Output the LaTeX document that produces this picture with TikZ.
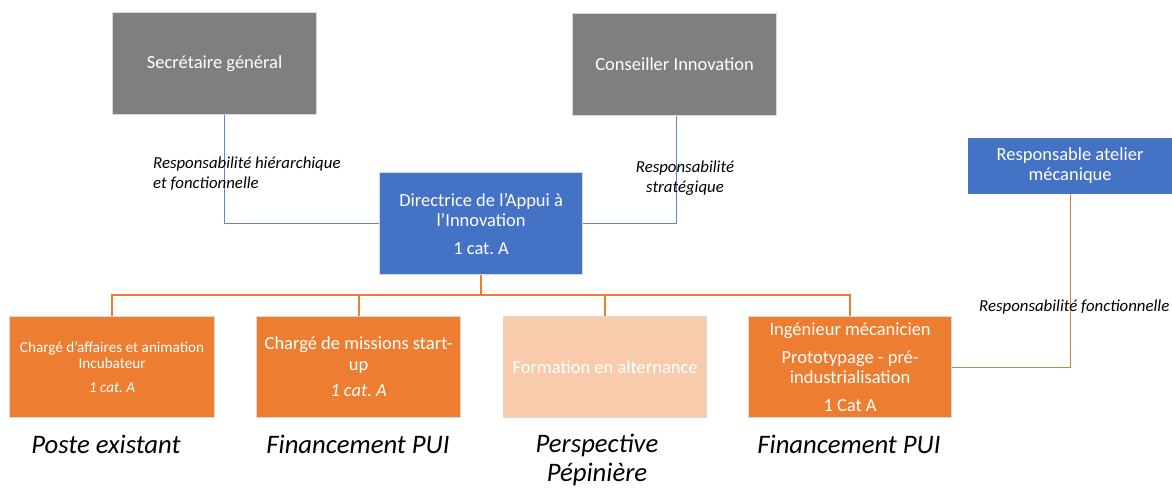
\documentclass[tikz,border=0pt]{standalone}
\usepackage{fontspec}
\setmainfont{Carlito}
\definecolor{cgray}{HTML}{7F7F7F}
\definecolor{cblue}{HTML}{4472C4}
\definecolor{corange}{HTML}{ED7D31}
\definecolor{clight}{HTML}{F8CBAD}
\definecolor{cline}{HTML}{5B86D0}
\definecolor{cfunc}{HTML}{D0804A}
\definecolor{cedge}{HTML}{D9D9D9}
\begin{document}
\begin{tikzpicture}[x=1pt,y=1pt,
  box/.style={anchor=north west, draw=cedge, line width=1.2pt, text=white, align=center, inner sep=2pt,
     font=\fontsize{18.5}{20.5}\selectfont},
  graybox/.style={box, fill=cgray, minimum width=204pt, minimum height=102pt},
  bluebox/.style={box, fill=cblue, minimum width=203pt, minimum height=102pt},
  orbox/.style={box, fill=corange, minimum width=205pt, minimum height=101pt},
  bluelink/.style={draw=cline, line width=1.5pt},
  orlink/.style={draw=corange, line width=2pt},
  funclink/.style={draw=cfunc, line width=1.2pt},
  rlabel/.style={font=\fontsize{16.8}{20}\selectfont\itshape, inner sep=0pt},
  bottomlabel/.style={font=\fontsize{26.7}{29}\selectfont\itshape, align=center, inner sep=0pt}
]
\useasboundingbox (0,0) rectangle (1172,-487);

% boxes
\node[graybox] (sec) at (112,-12) {Secrétaire général};
\node[graybox] (cons) at (572,-13) {Conseiller Innovation};
\node[bluebox] (dir) at (379,-172) {Directrice de l’Appui à\\l’Innovation\\[7pt]1 cat.\ A};
\node[box, draw=none, fill=cblue, minimum width=205pt, minimum height=56pt] (resp) at (967,-137) {Responsable atelier\\mécanique};

\node[orbox, font=\fontsize{15.2}{16.5}\selectfont] (b1) at (9,-316) {Chargé d’affaires et animation\\Incubateur\\[7pt]\textit{1 cat.\ A}};
\node[orbox, minimum width=204pt] (b2) at (256,-316) {Chargé de missions start-\\up\\[6pt]\textit{1 cat.\ A}};
\node[orbox, fill=clight, minimum width=203pt] (b3) at (503,-316) {Formation en alternance};
\node[orbox, minimum width=203pt] (b4) at (748,-316) {Ingénieur mécanicien\\[7pt]Prototypage - pré-\\industrialisation\\[7pt]1 Cat A};

% links
\draw[bluelink] ([xshift=10pt]sec.south) |- (dir.west);
\draw[bluelink] ([xshift=2pt]cons.south) |- (dir.east);
\coordinate (bus) at ([yshift=-20pt]dir.south);
\draw[orlink] (dir.south) -- (bus) -| (b1.north);
\draw[orlink] (bus) -| (b2.north);
\draw[orlink] (bus) -| (b3.north);
\draw[orlink] (bus) -| (b4.north);
\draw[funclink] (b4.east) -| (resp.south);

% relation labels
\node[rlabel, anchor=west, align=left] (l1) at (153,-174) {Responsabilité hiérarchique\\et fonctionnelle};
\node[rlabel, align=center] (l2) at (685,-178) {Responsabilité\\stratégique};
\node[rlabel, anchor=west] (l3) at (979,-307) {Responsabilité fonctionnelle};

% bottom labels
\node[bottomlabel] (p1) at (106,-444) {Poste existant};
\node[bottomlabel] (p2) at (358,-444) {Financement PUI};
\node[bottomlabel, anchor=north] (p3) at (597,-434) {Perspective\\Pépinière};
\node[bottomlabel] (p4) at (849,-444) {Financement PUI};
\end{tikzpicture}
\end{document}
